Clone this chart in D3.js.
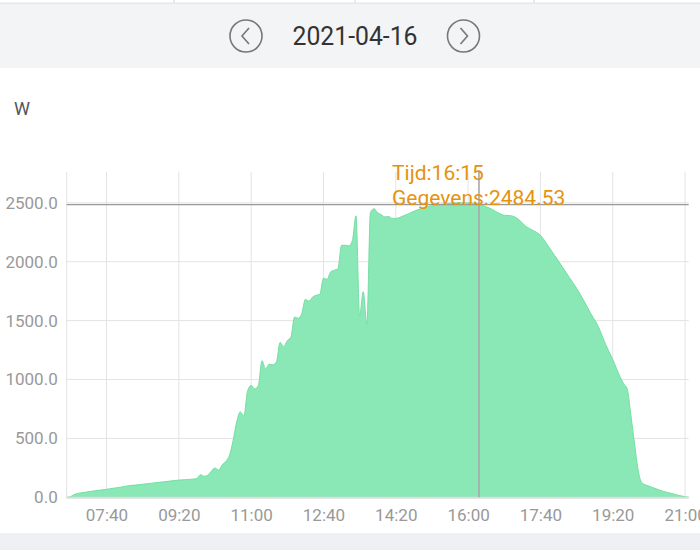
<!DOCTYPE html>
<html><head><meta charset="utf-8">
<script src="https://cdn.jsdelivr.net/npm/d3@7"></script>
<style>
html,body{margin:0;padding:0;background:#fff;}
svg{display:block;font-family:Roboto,"Noto Sans",sans-serif;}
</style></head>
<body>
<svg id="c" width="700" height="550"></svg>
<script>
const dateLabel = "2021-04-16";
const unitLabel = "W";
const times = ["06:45","06:50","06:55","07:00","07:05","07:20","07:40","07:55","08:00","08:10","08:20","08:40","09:00","09:20","09:35","09:40","09:45","09:50","09:55","10:00","10:05","10:10","10:15","10:20","10:25","10:30","10:35","10:40","10:45","10:50","10:55","11:00","11:05","11:10","11:15","11:20","11:25","11:30","11:35","11:40","11:45","11:50","11:55","12:00","12:05","12:10","12:15","12:20","12:25","12:30","12:35","12:40","12:45","12:50","12:55","13:00","13:05","13:10","13:15","13:20","13:25","13:30","13:35","13:40","13:45","13:50","13:55","14:00","14:05","14:10","14:15","14:20","14:30","14:45","15:00","15:15","15:30","15:45","16:00","16:15","16:30","16:45","16:50","17:00","17:10","17:20","17:30","17:40","17:50","18:00","18:10","18:20","18:30","18:40","18:50","19:00","19:10","19:20","19:30","19:35","19:40","19:45","19:50","19:55","20:00","20:10","20:20","20:30","20:40","20:50","21:00","21:05"];
const power = [0,5,22,32,38,52,68,82,86,98,104,118,132,146,152,155,160,192,178,188,222,248,232,275,305,355,480,640,725,690,900,950,920,950,1160,1090,1130,1125,1150,1315,1280,1330,1360,1530,1520,1560,1680,1665,1700,1715,1723,1860,1850,1915,1928,1940,2140,2140,2135,2180,2390,1540,1745,1470,2420,2450,2415,2400,2380,2385,2368,2368,2388,2428,2462,2480,2494,2500,2500,2484.53,2455,2405,2395,2390,2358,2300,2265,2225,2140,2050,1960,1866,1775,1670,1556,1450,1300,1170,1025,965,920,700,460,235,125,95,72,50,35,18,5,0];
const xTickLabels = ["07:40","09:20","11:00","12:40","14:20","16:00","17:40","19:20","21:00"];
const yTickValues = [0,500,1000,1500,2000,2500];
const tooltipTime = "16:15";
const tooltipValue = 2484.53;

const parse = d3.timeParse("%H:%M");
const data = times.map((t,i)=>({t:parse(t), v:power[i]}));

const svg = d3.select("#c");
const L=66.7, R=688.7, T=172, B=497.3;

// header
svg.append("rect").attr("x",0).attr("y",0).attr("width",700).attr("height",68).attr("fill","#f3f4f6");
svg.append("line").attr("x1",0).attr("x2",700).attr("y1",3).attr("y2",3).attr("stroke","#e2e3e5").attr("stroke-width",1.5);
svg.append("rect").attr("x",0).attr("y",0).attr("width",700).attr("height",2.5).attr("fill","#fff");
[174,355,534].forEach(x=>svg.append("line").attr("x1",x).attr("x2",x).attr("y1",0).attr("y2",3).attr("stroke","#e2e3e5").attr("stroke-width",1.5));
svg.append("text").attr("x",355).attr("y",45).attr("text-anchor","middle")
  .attr("font-size",25).attr("fill","#333").attr("textLength",125).attr("lengthAdjust","spacingAndGlyphs").text(dateLabel);
function circ(cx,dir){
  svg.append("circle").attr("cx",cx).attr("cy",36).attr("r",16).attr("fill","none").attr("stroke","#777").attr("stroke-width",1.6);
  svg.append("path").attr("d", dir<0 ? `M${cx+3},${36-8} L${cx-4},36 L${cx+3},${36+8}` : `M${cx-3},${36-8} L${cx+4},36 L${cx-3},${36+8}`)
    .attr("fill","none").attr("stroke","#777").attr("stroke-width",1.6);
}
circ(246,-1); circ(463.5,1);

// bottom band
svg.append("rect").attr("x",0).attr("y",533).attr("width",700).attr("height",17).attr("fill","#eef0f3");

svg.append("text").attr("x",14).attr("y",115).attr("font-size",18).attr("fill","#555").text(unitLabel);

const x = d3.scaleTime().domain([parse("06:45"), parse("21:05")]).range([L,R]);
const y = d3.scaleLinear().domain([0,2762]).range([B,T]);

// grid
const g = svg.append("g");
yTickValues.forEach(v=>{
  g.append("line").attr("x1",L).attr("x2",R).attr("y1",y(v)).attr("y2",y(v)).attr("stroke","#e3e3e3").attr("stroke-width",1);
});
g.append("line").attr("x1",L).attr("x2",L).attr("y1",T).attr("y2",B).attr("stroke","#e3e3e3");
xTickLabels.forEach(t=>{
  const xx=x(parse(t));
  g.append("line").attr("x1",xx).attr("x2",xx).attr("y1",T).attr("y2",B).attr("stroke","#e3e3e3");
});

// area
const area = d3.area().x(d=>x(d.t)).y0(B).y1(d=>y(d.v)).curve(d3.curveMonotoneX);
const line = d3.line().x(d=>x(d.t)).y(d=>y(d.v)).curve(d3.curveMonotoneX);
svg.append("path").datum(data).attr("d",area).attr("fill","#89e8b5");
svg.append("path").datum(data).attr("d",line).attr("fill","none").attr("stroke","#74dfa3").attr("stroke-width",1);

// x axis line
svg.append("line").attr("x1",L).attr("x2",R).attr("y1",B+0.5).attr("y2",B+0.5).attr("stroke","#dcdcdc").attr("stroke-width",2);

// axes
const yAxis = d3.axisLeft(y).tickValues(yTickValues).tickFormat(d3.format(".1f")).tickSize(0).tickPadding(9);
const ya = svg.append("g").attr("transform",`translate(${L},0)`).call(yAxis);
ya.select(".domain").remove();
ya.selectAll("text").attr("font-size",17).attr("fill","#999").attr("font-family","Roboto");

const xAxis = d3.axisBottom(x).tickValues(xTickLabels.map(parse)).tickFormat(d3.timeFormat("%H:%M")).tickSize(0).tickPadding(12);
const xa = svg.append("g").attr("transform",`translate(0,${B})`).call(xAxis);
xa.select(".domain").remove();
xa.selectAll("text").attr("font-size",17).attr("fill","#999").attr("font-family","Roboto");

// crosshair
const tx = x(parse(tooltipTime)), ty = y(tooltipValue);
svg.append("line").attr("x1",tx).attr("x2",tx).attr("y1",T).attr("y2",B).attr("stroke","#a8a8a8").attr("stroke-width",1.6);
svg.append("line").attr("x1",L).attr("x2",R).attr("y1",ty).attr("y2",ty).attr("stroke","#999").attr("stroke-width",1.2);

svg.append("text").attr("x",392).attr("y",180).attr("font-size",21).attr("fill","#e5930e").text("Tijd:"+tooltipTime);
svg.append("text").attr("x",392).attr("y",205).attr("font-size",21).attr("fill","#e5930e").text("Gegevens:"+tooltipValue);
</script>
</body></html>
